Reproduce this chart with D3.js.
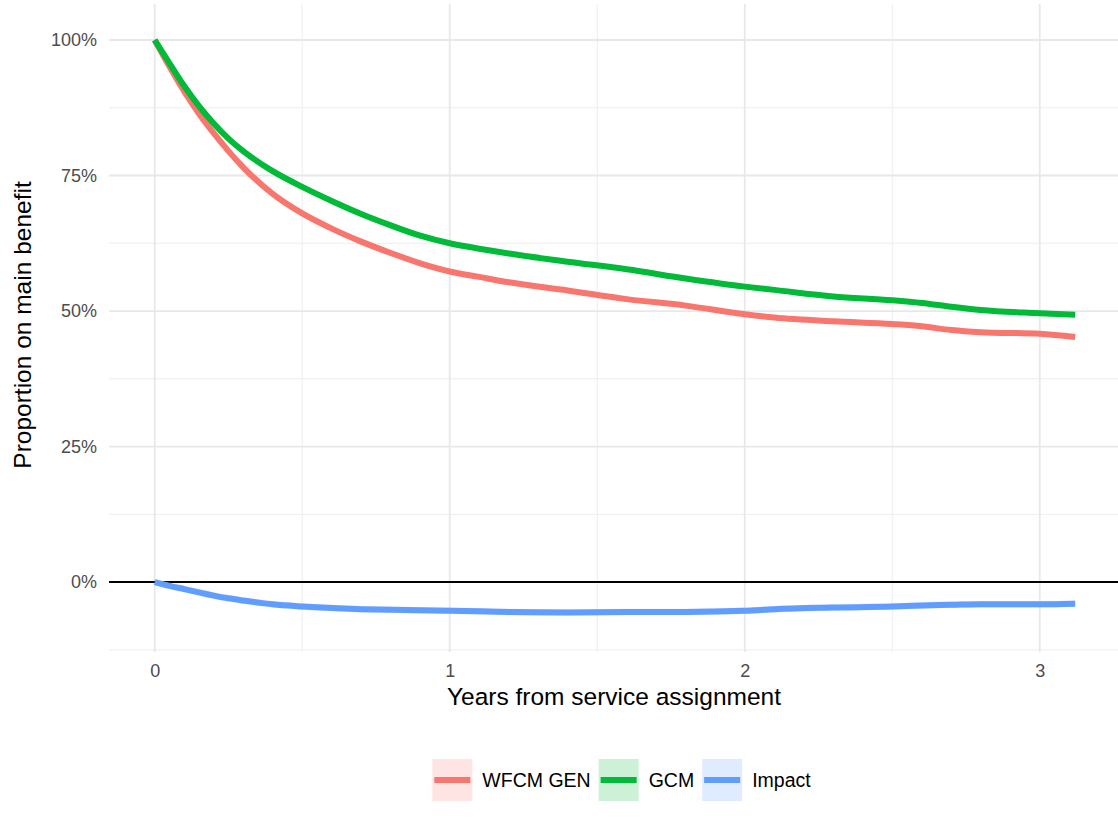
<!DOCTYPE html>
<html>
<head>
<meta charset="utf-8">
<script src="https://cdn.jsdelivr.net/npm/d3@7"></script>
<style>
  html, body { margin: 0; padding: 0; background: #fff; }
  svg { display: block; font-family: "Liberation Sans", Arial, sans-serif; }
</style>
</head>
<body>
<svg id="chart" width="1118" height="825"></svg>
<script>
// Years since assignment at which each survival estimate is sampled
const years = [0, 0.05, 0.1, 0.15, 0.2, 0.25, 0.3, 0.4, 0.5, 0.6, 0.7, 0.8, 0.9, 1.0, 1.1, 1.2, 1.4, 1.6, 1.8, 2.0, 2.1, 2.3, 2.5, 2.6, 2.7, 2.8, 3.0, 3.12];

// Proportion still on the main benefit, by service group
const wfcmGen = [1.0, 0.951, 0.905, 0.864, 0.828, 0.795, 0.765, 0.716, 0.680, 0.652, 0.628, 0.607, 0.588, 0.573, 0.563, 0.553, 0.538, 0.522, 0.510, 0.494, 0.488, 0.481, 0.476, 0.472, 0.465, 0.461, 0.458, 0.452];
const gcm     = [1.0, 0.957, 0.915, 0.878, 0.846, 0.818, 0.795, 0.758, 0.729, 0.703, 0.679, 0.658, 0.639, 0.625, 0.615, 0.606, 0.591, 0.577, 0.560, 0.545, 0.539, 0.527, 0.520, 0.515, 0.508, 0.502, 0.496, 0.493];
const impact  = [0, -0.007, -0.013, -0.019, -0.025, -0.030, -0.034, -0.041, -0.045, -0.048, -0.050, -0.051, -0.052, -0.053, -0.054, -0.055, -0.056, -0.055, -0.055, -0.053, -0.050, -0.047, -0.045, -0.043, -0.042, -0.041, -0.041, -0.040];

// Half-width of each series' confidence band
const bandHalfWidth = [0.004, 0.004, 0.006];

const seriesNames = ["WFCM GEN", "GCM", "Impact"];
const seriesColors = ["#F8766D", "#00BA38", "#619CFF"];

const xTicks = [0, 1, 2, 3];
const xMinorTicks = [0.5, 1.5, 2.5];
const yTicks = [0, 0.25, 0.5, 0.75, 1.0];
const yMinorTicks = [-0.125, 0.125, 0.375, 0.625, 0.875];

const xTitle = "Years from service assignment";
const yTitle = "Proportion on main benefit";

const seriesValues = [wfcmGen, gcm, impact];
const series = seriesNames.map((name, i) => ({
  name,
  color: seriesColors[i],
  half: bandHalfWidth[i],
  points: years.map((t, j) => ({ t, v: seriesValues[i][j] }))
}));

const svg = d3.select("#chart");
const panel = { left: 109, right: 1120, top: 4, bottom: 652 };

const x = d3.scaleLinear().domain([-0.155, 3.272]).range([panel.left, panel.right]);
const y = d3.scaleLinear().domain([-0.129, 1.0664]).range([panel.bottom, panel.top]);

// Grid
const grid = svg.append("g");
grid.selectAll(".ymin").data(yMinorTicks).join("line")
  .attr("x1", panel.left).attr("x2", panel.right)
  .attr("y1", d => y(d)).attr("y2", d => y(d))
  .attr("stroke", "#EDEDED").attr("stroke-width", 1);
grid.selectAll(".xmin").data(xMinorTicks).join("line")
  .attr("y1", panel.top).attr("y2", panel.bottom)
  .attr("x1", d => x(d)).attr("x2", d => x(d))
  .attr("stroke", "#EDEDED").attr("stroke-width", 1);
grid.selectAll(".ymaj").data(yTicks).join("line")
  .attr("x1", panel.left).attr("x2", panel.right)
  .attr("y1", d => y(d)).attr("y2", d => y(d))
  .attr("stroke", "#E8E8E8").attr("stroke-width", 1.8);
grid.selectAll(".xmaj").data(xTicks).join("line")
  .attr("y1", panel.top).attr("y2", panel.bottom)
  .attr("x1", d => x(d)).attr("x2", d => x(d))
  .attr("stroke", "#E8E8E8").attr("stroke-width", 1.8);

// Zero reference line
svg.append("line")
  .attr("x1", panel.left).attr("x2", panel.right)
  .attr("y1", y(0)).attr("y2", y(0))
  .attr("stroke", "#000").attr("stroke-width", 2);

// Confidence bands
const band = d3.area()
  .x(d => x(d.t))
  .curve(d3.curveMonotoneX);
series.forEach(s => {
  svg.append("path")
    .datum(s.points)
    .attr("d", band.y0(d => y(d.v - s.half)).y1(d => y(d.v + s.half)))
    .attr("fill", s.color)
    .attr("fill-opacity", 0.2);
});

// Estimate lines
const line = d3.line()
  .x(d => x(d.t))
  .y(d => y(d.v))
  .curve(d3.curveMonotoneX);
series.forEach(s => {
  svg.append("path")
    .datum(s.points)
    .attr("d", line)
    .attr("fill", "none")
    .attr("stroke", s.color)
    .attr("stroke-width", 6)
    .attr("stroke-linejoin", "round");
});

// Axes (labels only, as in a minimal theme)
const xAxis = svg.append("g")
  .attr("transform", `translate(0,${panel.bottom + 4})`)
  .call(d3.axisBottom(x).tickValues(xTicks).tickFormat(d3.format("d")).tickSize(0).tickPadding(8));
xAxis.select(".domain").remove();
xAxis.selectAll("text")
  .attr("font-size", 18)
  .attr("fill", "#4D4D4D")
  .attr("font-family", "Liberation Sans, Arial, sans-serif");

const yAxis = svg.append("g")
  .attr("transform", `translate(${panel.left - 4},0)`)
  .call(d3.axisLeft(y).tickValues(yTicks).tickFormat(d3.format(".0%")).tickSize(0).tickPadding(8));
yAxis.select(".domain").remove();
yAxis.selectAll("text")
  .attr("font-size", 18)
  .attr("fill", "#4D4D4D")
  .attr("font-family", "Liberation Sans, Arial, sans-serif");

// Axis titles
svg.append("text")
  .attr("x", 614)
  .attr("y", 705)
  .attr("text-anchor", "middle")
  .attr("font-size", 24.5)
  .attr("fill", "#000")
  .text(xTitle);

svg.append("text")
  .attr("transform", `translate(31,325) rotate(-90)`)
  .attr("text-anchor", "middle")
  .attr("font-size", 24.5)
  .attr("fill", "#000")
  .text(yTitle);

// Legend
const legend = svg.append("g");
const keyW = 40, keyH = 42, gapAfterKey = 10, gapBetween = 8;
const legendFont = 19.5;
const legendY = 780;
const labelWidths = [];
const tmp = svg.append("text").attr("font-size", legendFont);
seriesNames.forEach(n => { tmp.text(n); labelWidths.push(tmp.node().getComputedTextLength()); });
tmp.remove();
const totalW = d3.sum(labelWidths) + seriesNames.length * (keyW + gapAfterKey) + (seriesNames.length - 1) * gapBetween;
let cx = 621.5 - totalW / 2;
series.forEach((s, i) => {
  const g = legend.append("g").attr("transform", `translate(${cx},${legendY - keyH / 2})`);
  g.append("rect").attr("width", keyW).attr("height", keyH)
    .attr("fill", s.color).attr("fill-opacity", 0.2);
  g.append("line")
    .attr("x1", 2).attr("x2", keyW - 2)
    .attr("y1", keyH / 2).attr("y2", keyH / 2)
    .attr("stroke", s.color).attr("stroke-width", 6);
  g.append("text")
    .attr("x", keyW + gapAfterKey)
    .attr("y", keyH / 2)
    .attr("dy", "0.35em")
    .attr("font-size", legendFont)
    .attr("fill", "#000")
    .text(s.name);
  cx += keyW + gapAfterKey + labelWidths[i] + gapBetween;
});
</script>
</body>
</html>
